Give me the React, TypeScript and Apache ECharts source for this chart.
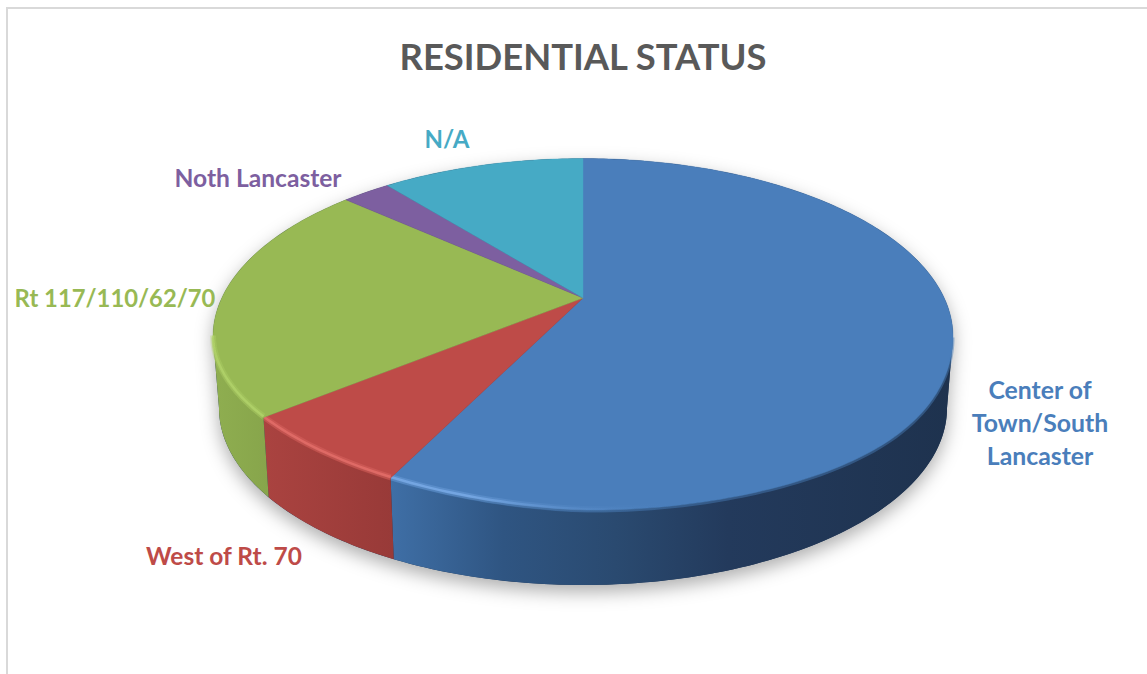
import React, { useEffect, useRef } from "react";
import * as echarts from "echarts";

const categories = ["Center of\nTown/South\nLancaster", "West of Rt. 70", "Rt 117/110/62/70", "Noth Lancaster", "N/A"];
const shares = [57.05, 6.7, 22.75, 2.6, 10.9];
const faceColors = ["#4a7ebb", "#be4b48", "#98b954", "#7d5fa0", "#46aac5"];
const rimColors = ["#7fb0ec", "#e8726d", "#b4d66c", "#9a7cc0", "#6cc8e2"];
const wallStops: [number, string][][] = [
  [[0, "#3f6fa6"], [0.2, "#2f5582"], [0.4, "#2a4a70"], [0.6, "#233a5c"], [1, "#1e324e"]],
  [[0, "#aa4340"], [1, "#983a38"]],
  [[0, "#8fae50"], [1, "#87a54b"]],
  [[0, "#6a5088"], [1, "#6a5088"]],
  [[0, "#3b90a8"], [1, "#3b90a8"]],
];

const CX = 583, CY = 336.5, RX = 370, RY = 178;
const BCY = 408, BRX = 364, BRY = 177;
const A = -0.216;
const S = Math.sqrt(1 - A * A);
const TOTAL = shares.reduce((s, v) => s + v, 0);
const DEG = Math.PI / 180;
const RIGHT_TIP = Math.acos(A);
const LEFT_TIP = 2 * Math.PI - RIGHT_TIP;

function unit(t: number) {
  const x = Math.sin(t), y = -Math.cos(t), d = 1 + A * y;
  return [(x * S) / d, (y + A) / d];
}
function topEdge(t: number): number[] {
  const [x, y] = unit(t);
  const k = x < 0 ? 4.5 - 15 * x : 4.5 - 4 * x - 18 * x * x * x * x;
  const shift = y > 0 ? y * k : 0;
  return [CX + RX * x, CY + RY * y - shift];
}
function bottomEdge(t: number): number[] {
  const [x, y] = unit(t);
  return [CX + BRX * x, BCY + BRY * y];
}
function sweep(a: number, b: number, f: (t: number) => number[]) {
  const n = Math.max(2, Math.ceil((b - a) / DEG));
  const pts: number[][] = [];
  for (let i = 0; i <= n; i++) pts.push(f(a + ((b - a) * i) / n));
  return pts;
}
function bounds(i: number) {
  const before = shares.slice(0, i).reduce((s, v) => s + v, 0);
  return [(before / TOTAL) * 2 * Math.PI, ((before + shares[i]) / TOTAL) * 2 * Math.PI];
}

function renderBase() {
  const pts = [
    ...sweep(0, RIGHT_TIP, topEdge),
    ...sweep(RIGHT_TIP, LEFT_TIP, bottomEdge),
    ...sweep(LEFT_TIP, 2 * Math.PI, topEdge),
  ];
  return {
    type: "polygon",
    shape: { points: pts },
    style: { fill: "#20344f", shadowBlur: 18, shadowColor: "rgba(0,0,0,0.32)", shadowOffsetX: 0, shadowOffsetY: 7 },
  };
}

function rimStroke(i: number, end: number) {
  return {
    type: "linear", global: true, x: 213, y: 0, x2: end, y2: 0,
    colorStops: [
      { offset: 0, color: rimColors[i] },
      { offset: 0.55, color: rimColors[i] },
      { offset: 1, color: "rgba(74,126,187,0)" },
    ],
  };
}

function renderSlice(params: any) {
  const i = params.dataIndex;
  const [a, b] = bounds(i);
  const children: any[] = [];
  const wa = Math.max(a, RIGHT_TIP), wb = Math.min(b, LEFT_TIP);
  if (wb > wa) {
    const top = sweep(wa, wb, topEdge);
    const bot = sweep(wa, wb, bottomEdge).reverse();
    const xs = [...top, ...bot].map((p) => p[0]);
    const minX = Math.min(...xs), maxX = Math.max(...xs);
    children.push({
      type: "polygon",
      shape: { points: [...top, ...bot] },
      style: {
        fill: {
          type: "linear", global: true, x: minX, y: 0, x2: maxX, y2: 0,
          colorStops: wallStops[i].map(([offset, color]) => ({ offset, color })),
        },
        stroke: null,
      },
    });
  }
  children.push({
    type: "polygon",
    shape: { points: [[CX, CY + RY * A], ...sweep(a, b, topEdge)] },
    style: { fill: faceColors[i], stroke: faceColors[i], lineWidth: 0.4 },
  });
  if (wb > wa) {
    const offsetEdge = (d: number) => (t: number) => { const p = topEdge(t); return [p[0], p[1] + d]; };
    children.push({
      type: "polyline",
      shape: { points: sweep(wa, wb, offsetEdge(1)) },
      style: { fill: null, lineWidth: 3, stroke: faceColors[i], opacity: 0.45 },
    });
    children.push({
      type: "polyline",
      shape: { points: sweep(wa, wb, offsetEdge(-1)) },
      style: { fill: null, lineWidth: 6, stroke: rimStroke(i, 680), opacity: 0.3 },
    });
    children.push({
      type: "polyline",
      shape: { points: sweep(wa, wb, offsetEdge(-1)) },
      style: { fill: null, lineWidth: 2.5, stroke: rimStroke(i, 680), opacity: 0.7 },
    });
  }
  return { type: "group", children };
}

export default function App() {
  const ref = useRef<HTMLDivElement>(null);
  useEffect(() => {
    document.body.style.margin = "0";
    document.body.style.overflow = "hidden";
    const chart = echarts.init(ref.current!, null, { renderer: "svg" });
    const labelFont = { fontFamily: "Lato", fontWeight: "bold", align: "center", verticalAlign: "middle" };
    const anchors = [[1040, 422], [224, 555], [115, 298], [258, 177], [447, 138]];
    const sizes = [24.8, 24.5, 23.8, 24.6, 24];
    chart.setOption({
      animation: false,
      backgroundColor: "#ffffff",
      title: {
        text: "RESIDENTIAL STATUS",
        left: 578, top: 33, textAlign: "center",
        textStyle: { fontFamily: "Lato", fontWeight: "bold", fontSize: 36.4, color: "#595959" },
      },
      graphic: [
        {
          type: "rect", silent: true,
          shape: { x: 7, y: 8, width: 1170, height: 700 },
          style: { fill: "none", stroke: "#d9d9d9", lineWidth: 2 },
        },
        ...categories.map((text, i) => ({
          type: "text", silent: true, x: anchors[i][0], y: anchors[i][1], z: 10,
          style: { ...labelFont, fontSize: sizes[i], text, fill: faceColors[i], lineHeight: 33 },
        })),
      ],
      series: [
        { type: "custom", coordinateSystem: "none", silent: true, data: [0], renderItem: renderBase, z: 1 },
        { type: "custom", coordinateSystem: "none", silent: true, data: shares, renderItem: renderSlice, z: 2 },
      ],
    });
    return () => chart.dispose();
  }, []);
  return <div ref={ref} style={{ width: 1147, height: 674 }} />;
}
